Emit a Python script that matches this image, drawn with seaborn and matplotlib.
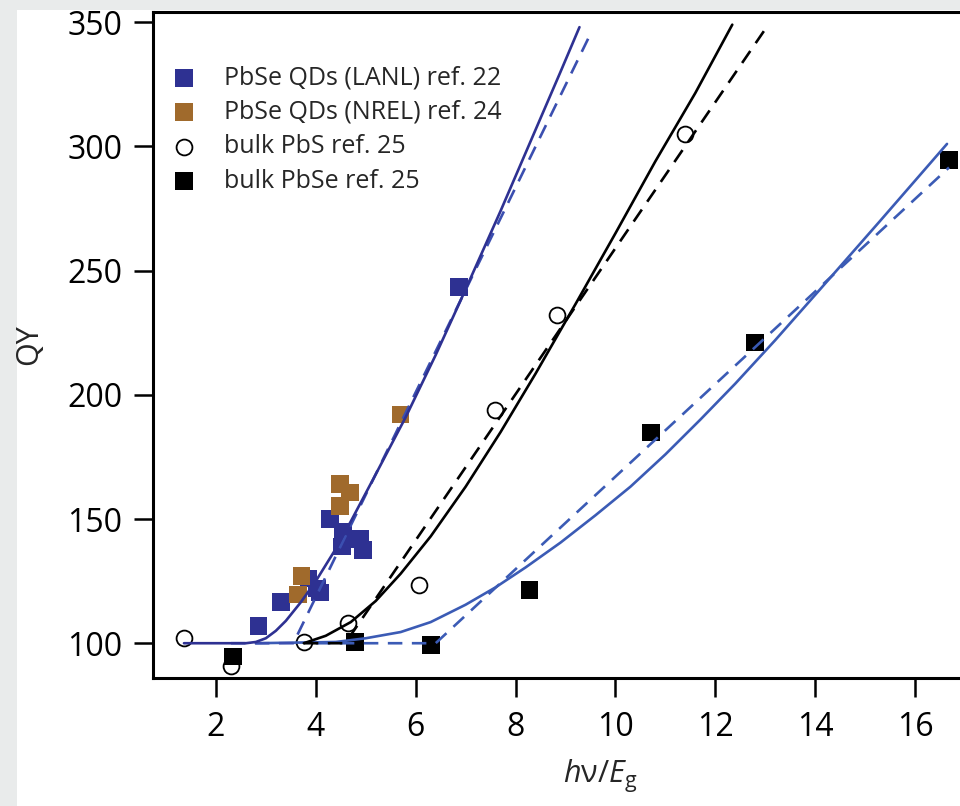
import matplotlib
matplotlib.use("Agg")
import matplotlib.pyplot as plt
from matplotlib.patches import Rectangle
import pandas as pd
import seaborn as sns

lanl_x = [2.85, 3.30, 3.85, 4.02, 4.08, 4.29, 4.55, 4.52, 4.88, 4.95, 6.87]
lanl_y = [107, 116.5, 126, 122, 120.5, 150, 145, 139, 142, 137.5, 243.5]
nrel_x = [3.64, 3.71, 4.49, 4.69, 4.49, 5.70]
nrel_y = [119.7, 127.1, 164, 160.7, 155.3, 192]
pbs_x = [1.36, 2.30, 3.76, 4.65, 6.07, 7.59, 8.84, 11.39]
pbs_y = [102, 91, 100.4, 108, 123.3, 193.8, 232.2, 305]
pbse_x = [2.34, 4.79, 6.31, 8.28, 10.71, 12.80, 16.68]
pbse_y = [94.6, 100.4, 99.3, 121.5, 184.8, 221, 294.6]

# model curves, sampled by eye along the drawn lines
lanl_fit_x = [1.36, 2.6, 2.8, 3.0, 3.2, 3.4, 3.7, 4.0, 4.4, 4.7, 5.2, 5.8, 6.4, 6.9, 7.7, 8.3, 8.9, 9.28]
lanl_fit_y = [100, 100, 100.5, 102, 105, 109, 116.5, 125, 138, 149, 168, 191, 216, 238, 274, 302, 330, 348]
lanl_thr_x = [2.3, 3.55, 9.53]
lanl_thr_y = [100, 100, 346.5]
pbs_fit_x = [3.76, 4.2, 4.7, 5.2, 5.7, 6.3, 7.0, 7.7, 8.4, 9.2, 10.0, 10.8, 11.6, 12.34]
pbs_fit_y = [100, 103, 108.5, 117, 128, 143, 163, 185, 208.5, 236.5, 265, 294, 321.5, 349]
pbs_thr_x = [3.76, 4.59, 13.0]
pbs_thr_y = [100, 100, 347.2]
pbse_fit_x = [2.8, 4.4, 5.0, 5.7, 6.3, 7.0, 7.6, 8.2, 8.9, 9.6, 10.3, 11.0, 11.7, 12.4, 13.2, 14.1, 15.3, 16.64]
pbse_fit_y = [100, 100.5, 102, 104.5, 108.5, 115.5, 122.5, 130.5, 140.5, 151.5, 163, 176, 190, 204.5, 222, 242.5, 270, 301]
pbse_thr_x = [4.0, 6.4, 16.68]
pbse_thr_y = [100, 100, 291.5]

x_ticks = [2, 4, 6, 8, 10, 12, 14, 16]
y_ticks = [100, 150, 200, 250, 300, 350]

NAVY = "#2E3192"
NAVY_DASH = "#3B4FB0"
BROWN = "#A06A2C"
BLUE = "#3B5BB5"

sns.set_theme(style="white")
plt.rcParams["font.family"] = ["Open Sans", "DejaVu Sans"]
plt.rcParams["mathtext.fontset"] = "custom"
plt.rcParams["mathtext.it"] = "Open Sans:italic"
plt.rcParams["mathtext.rm"] = "Open Sans"

fig = plt.figure(figsize=(9.6, 8.06), dpi=100, facecolor="#e9ebeb")
fig.patches.append(Rectangle((17 / 960, 0), 1, 1 - 10 / 806, transform=fig.transFigure,
                             facecolor="white", edgecolor="none", zorder=-1))
ax = fig.add_axes([153 / 960, 1 - 678 / 806, 1 - 153 / 960, (678 - 12) / 806])

# scatter points (drawn below the lines)
sq = 160
sns.scatterplot(x=pbs_x, y=pbs_y, ax=ax, marker="o", s=130, facecolor="white",
                edgecolor="black", linewidth=1.3, zorder=2, label="bulk PbS ref. 25")
sns.scatterplot(x=pbse_x, y=pbse_y, ax=ax, marker="s", s=sq, color="black",
                edgecolor="none", zorder=3, label="bulk PbSe ref. 25")
sns.scatterplot(x=lanl_x, y=lanl_y, ax=ax, marker="s", s=sq, color=NAVY,
                edgecolor="none", zorder=3, label="PbSe QDs (LANL) ref. 22")
sns.scatterplot(x=nrel_x, y=nrel_y, ax=ax, marker="s", s=sq, color=BROWN,
                edgecolor="none", zorder=4, label="PbSe QDs (NREL) ref. 24")

lw = 1.9
dash = (0, (5.5, 3.6))
curves = [
    (pbse_fit_x, pbse_fit_y, BLUE, "-"),
    (pbse_thr_x, pbse_thr_y, BLUE, dash),
    (pbs_fit_x, pbs_fit_y, "black", "-"),
    (pbs_thr_x, pbs_thr_y, "black", dash),
    (lanl_thr_x, lanl_thr_y, NAVY_DASH, dash),
    (lanl_fit_x, lanl_fit_y, NAVY, "-"),
]
for cx, cy, c, ls in curves:
    df = pd.DataFrame({"x": cx, "y": cy})
    sns.lineplot(data=df, x="x", y="y", ax=ax, color=c, linewidth=lw, linestyle=ls,
                 sort=False, estimator=None, zorder=5)

ax.set_xlim(0.74, 16.9)
ax.set_ylim(86.0, 354.1)
ax.set_xticks(x_ticks)
ax.set_yticks(y_ticks)
ax.tick_params(axis="both", direction="out", length=14, width=1.8, labelsize=23,
               colors="black", bottom=True, left=True)
ax.tick_params(axis="y", pad=8)
ax.tick_params(axis="x", pad=10)
for side in ["left", "bottom", "top"]:
    ax.spines[side].set_linewidth(2.2)
    ax.spines[side].set_color("black")
ax.spines["right"].set_visible(False)

ax.set_ylabel("QY", fontsize=22)
ax.yaxis.set_label_coords(-0.135, 0.5)
ax.set_xlabel(r"$h$ν/$E_{\mathrm{g}}$", fontsize=22)
ax.xaxis.set_label_coords(0.554, -0.12)

handles, labels = ax.get_legend_handles_labels()
order = ["PbSe QDs (LANL) ref. 22", "PbSe QDs (NREL) ref. 24", "bulk PbS ref. 25", "bulk PbSe ref. 25"]
hmap = dict(zip(labels, handles))
ax.legend([hmap[k] for k in order], order, loc="upper left", bbox_to_anchor=(0.006, 0.935),
          frameon=False, fontsize=18, handletextpad=0.95, labelspacing=0.38,
          borderaxespad=0.0, handlelength=1.3)

fig.savefig("out.png", dpi=100, facecolor=fig.get_facecolor())
